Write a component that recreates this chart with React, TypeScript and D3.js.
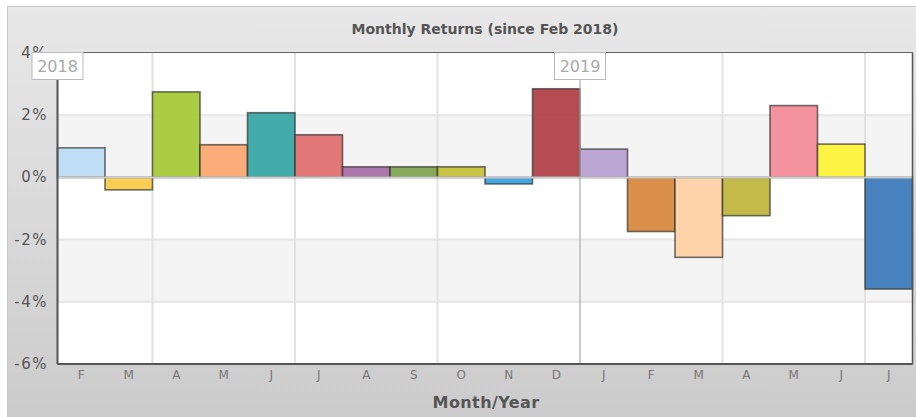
import React from "react";
import * as d3 from "d3";

const months = ["F", "M", "A", "M", "J", "J", "A", "S", "O", "N", "D", "J", "F", "M", "A", "M", "J", "J"];
const returns = [0.95, -0.4, 2.75, 1.05, 2.08, 1.37, 0.34, 0.34, 0.34, -0.21, 2.85, 0.91, -1.74, -2.57, -1.23, 2.31, 1.07, -3.59];
const barColors = [
  "#bcdcf4", "#f8ca48", "#a6ca3a", "#fca872", "#3aa6a6", "#e07070",
  "#a870a8", "#80a452", "#c6c03c", "#3aa2e0", "#b2424a", "#b8a2d2",
  "#d88a3e", "#fdd2a4", "#c0b640", "#f48c9a", "#fcf23a", "#3e7cbc",
];
const yTicks = [4, 2, 0, -2, -4, -6];
const yearLabels = ["2018", "2019"];
const yearStartIndex = [0, 11];
const quarterStartIndex = [2, 5, 8, 14, 17];

const W = 916;
const H = 417;
const plot = { left: 57.5, right: 912.5, top: 53, bottom: 364 };
const FONT = "'DejaVu Sans', Verdana, sans-serif";

export default function App() {
  const idx = months.map((_, i) => i);
  const x = d3.scaleBand<number>().domain(idx).range([plot.left, plot.right]).padding(0);
  const y = d3.scaleLinear().domain([-6, 4]).range([plot.bottom, plot.top]);
  const bw = x.bandwidth();
  const bands: [number, number, string][] = [
    [4, 2, "#ffffff"],
    [2, 0, "#f4f4f4"],
    [0, -2, "#ffffff"],
    [-2, -4, "#f4f4f4"],
    [-4, -6, "#ffffff"],
  ];
  const cx = (plot.left + plot.right) / 2;

  return (
    <svg width={W} height={H} style={{ position: "absolute", left: 0, top: 0, display: "block" }}>
      <defs>
        <linearGradient id="bg" x1="0" y1="0" x2="0" y2="1">
          <stop offset="0" stopColor="#e8e8e8" />
          <stop offset="1" stopColor="#cbcbcb" />
        </linearGradient>
      </defs>
      <rect x={0} y={0} width={W} height={H} fill="#ffffff" />
      <rect x={7.5} y={6.5} width={W} height={H} fill="url(#bg)" stroke="#c8c8c8" strokeWidth={1} />
      <text x={cx} y={34} textAnchor="middle" fontFamily={FONT} fontWeight="bold" fontSize={14} fill="#555">
        Monthly Returns (since Feb 2018)
      </text>

      {bands.map(([a, b, c], i) => (
        <rect key={"band" + i} x={plot.left} y={y(a)} width={plot.right - plot.left} height={y(b) - y(a)} fill={c} />
      ))}
      {[2, -2, -4].map((t) => (
        <line key={"hg" + t} x1={plot.left} x2={plot.right} y1={y(t)} y2={y(t)} stroke="#e6e6e6" strokeWidth={2} />
      ))}
      {quarterStartIndex.map((i) => (
        <line key={"vg" + i} x1={x(i)!} x2={x(i)!} y1={plot.top} y2={plot.bottom} stroke="#e2e2e2" strokeWidth={2} />
      ))}

      {returns.map((v, i) => {
        const y0 = y(Math.max(0, v));
        const y1 = y(Math.min(0, v));
        return (
          <rect
            key={"bar" + i}
            x={x(i)!}
            y={y0}
            width={bw}
            height={y1 - y0}
            fill={barColors[i]}
            fillOpacity={0.95}
            stroke="#333"
            strokeOpacity={0.7}
            strokeWidth={1.6}
          />
        );
      })}

      <line x1={plot.left} x2={plot.right} y1={y(0)} y2={y(0)} stroke="#cccccc" strokeWidth={2} />

      {yearStartIndex.map((i, k) => (
        <line key={"yl" + k} x1={x(i)!} x2={x(i)!} y1={80} y2={plot.bottom} stroke="#aaaaaa" strokeWidth={1.2} />
      ))}

      <rect x={plot.left} y={plot.top - 0.5} width={plot.right - plot.left} height={plot.bottom - plot.top + 0.5} fill="none" stroke="#666" strokeWidth={1} />
      <line x1={plot.left} x2={plot.left} y1={plot.top} y2={plot.bottom} stroke="#555" strokeWidth={2} />
      <line x1={plot.left} x2={plot.right} y1={plot.bottom} y2={plot.bottom} stroke="#555" strokeWidth={2} />
      <line x1={plot.right} x2={plot.right} y1={plot.top} y2={plot.bottom} stroke="#555" strokeWidth={1.5} />

      {yTicks.map((t) => (
        <text key={"yt" + t} x={48} y={y(t) + 5} textAnchor="end" fontFamily={FONT} fontSize={15} fill="#555" letterSpacing={1.5}>
          {t + "%"}
        </text>
      ))}

      {yearStartIndex.map((i, k) => {
        const xx = x(i)!;
        return (
          <g key={"yb" + k}>
            <rect x={xx - 25.5} y={52.5} width={51} height={27} fill="#ffffff" stroke="#bbbbbb" strokeWidth={1} />
            <text x={xx} y={72} textAnchor="middle" fontFamily={FONT} fontSize={16} fill="#aaaaaa">
              {yearLabels[k]}
            </text>
          </g>
        );
      })}

      {months.map((m, i) => (
        <text key={"xt" + i} x={x(i)! + bw / 2} y={379} textAnchor="middle" fontFamily={FONT} fontSize={12} fill="#777">
          {m}
        </text>
      ))}

      <text x={cx + 1} y={408} textAnchor="middle" fontFamily={FONT} fontWeight="bold" fontSize={16} fill="#555" letterSpacing={0.4}>
        Month/Year
      </text>
    </svg>
  );
}
